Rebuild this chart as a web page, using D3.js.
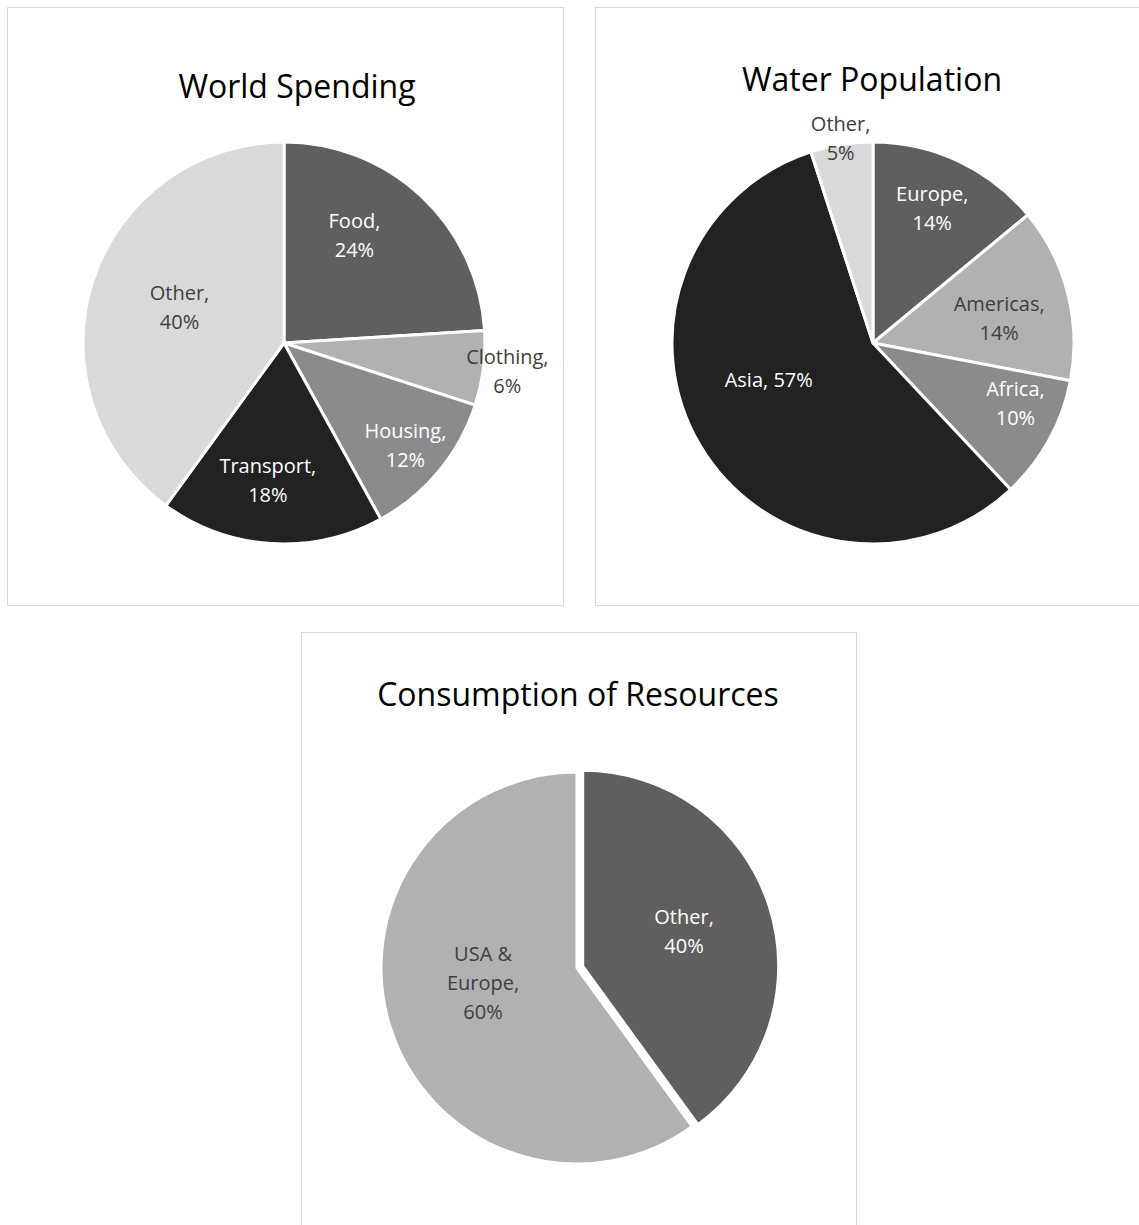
<!DOCTYPE html>
<html>
<head>
<meta charset="utf-8">
<script src="https://cdn.jsdelivr.net/npm/d3@7"></script>
<style>
  html, body { margin: 0; padding: 0; background: #fff; }
  svg { display: block; }
  text { font-family: "Open Sans", sans-serif; }
</style>
</head>
<body>
<svg id="chart" width="1139" height="1225"></svg>
<script>
// ---- Data ----
const spendingCategories = ["Food", "Clothing", "Housing", "Transport", "Other"];
const spendingValues = [24, 6, 12, 18, 40];

const waterCategories = ["Europe", "Americas", "Africa", "Asia", "Other"];
const waterValues = [14, 14, 10, 57, 5];

const resourceCategories = ["Other", "USA & Europe"];
const resourceValues = [40, 60];

const titles = ["World Spending", "Water Population", "Consumption of Resources"];

// ---- Styling / layout (not data) ----
const spendingColors = ["#5f5f5f", "#b1b1b1", "#8b8b8b", "#222222", "#d9d9d9"];
const waterColors = ["#5f5f5f", "#b1b1b1", "#8b8b8b", "#222222", "#d9d9d9"];
const resourceColors = ["#5f5f5f", "#b1b1b1"];

const panels = [
  { cats: spendingCategories, vals: spendingValues, colors: spendingColors, title: titles[0],
    box: [7, 7, 556, 598], titleX: 297, titleY: 98, cx: 284, cy: 343, r: 201,
    labels: {
      "Food": { dA: -10, k: 0.64, fill: "#fff" },
      "Clothing": { dA: 0, k: 1.12, fill: "#404040" },
      "Housing": { dA: 0.5, k: 0.79, fill: "#fff" },
      "Transport": { dA: 3.1, k: 0.69, fill: "#fff" },
      "Other": { dA: 1, k: 0.55, fill: "#404040" }
    }, explode: {} },
  { cats: waterCategories, vals: waterValues, colors: waterColors, title: titles[1],
    box: [595, 7, 560, 598], titleX: 872, titleY: 91, cx: 873, cy: 343, r: 201,
    labels: {
      "Europe": { dA: -1.4, k: 0.73, fill: "#fff" },
      "Americas": { dA: 3.2, k: 0.64, fill: "#404040" },
      "Africa": { dA: -5.8, k: 0.77, fill: "#fff" },
      "Asia": { dA: 11.2, k: 0.55, fill: "#fff", wrap: 140 },
      "Other": { dA: 0, k: 1.03, fill: "#404040" }
    }, explode: {} },
  { cats: resourceCategories, vals: resourceValues, colors: resourceColors, title: titles[2],
    box: [301, 632, 555, 620], titleX: 578, titleY: 706, cx: 577, cy: 968, r: 196,
    labels: {
      "Other": { dA: -0.8, k: 0.577, fill: "#fff" },
      "USA & Europe": { dA: 9.2, k: 0.485, fill: "#404040" }
    }, explode: { "Other": 6 } }
];

const svg = d3.select("#chart");
const fmtPct = v => d3.format(".0%")(v);

panels.forEach(p => {
  const g = svg.append("g");
  g.append("rect")
    .attr("x", p.box[0] + 0.5).attr("y", p.box[1] + 0.5)
    .attr("width", p.box[2]).attr("height", p.box[3])
    .attr("fill", "#fff").attr("stroke", "#d9d9d9").attr("stroke-width", 1);

  g.append("text")
    .attr("x", p.titleX).attr("y", p.titleY)
    .attr("text-anchor", "middle")
    .attr("font-size", 32).attr("fill", "#000")
    .text(p.title);

  const total = d3.sum(p.vals);
  const rows = p.cats.map((c, i) => ({ name: c, value: p.vals[i], color: p.colors[i] }));
  const pie = d3.pie().sort(null).value(d => d.value).startAngle(0).endAngle(2 * Math.PI);
  const arcs = pie(rows);
  const arc = d3.arc().innerRadius(0).outerRadius(p.r);

  const pg = g.append("g").attr("transform", `translate(${p.cx},${p.cy})`);

  pg.selectAll("path.slice").data(arcs).join("path")
    .attr("class", "slice")
    .attr("d", arc)
    .attr("fill", d => d.data.color)
    .attr("stroke", "#fff").attr("stroke-width", 3).attr("stroke-linejoin", "round")
    .attr("transform", d => {
      const e = p.explode[d.data.name] || 0;
      const a = (d.startAngle + d.endAngle) / 2;
      return `translate(${Math.sin(a) * e},${-Math.cos(a) * e})`;
    });

  const lineH = 29;
  arcs.forEach(d => {
    const L = p.labels[d.data.name];
    const a = (d.startAngle + d.endAngle) / 2 + L.dA * Math.PI / 180;
    const rr = L.k * p.r;
    const x = Math.sin(a) * rr, y = -Math.cos(a) * rr;
    const words = (d.data.name + ", " + fmtPct(d.data.value / total)).split(" ");
    const maxW = L.wrap || 75;
    const t = pg.append("text")
      .attr("text-anchor", "middle")
      .attr("font-size", 20).attr("fill", L.fill);
    const lines = [];
    let cur = [];
    const probe = pg.append("text").attr("font-size", 20).attr("visibility", "hidden");
    words.forEach(w => {
      const test = cur.concat([w]).join(" ");
      probe.text(test);
      if (cur.length && probe.node().getComputedTextLength() > maxW) {
        lines.push(cur.join(" "));
        cur = [w];
      } else cur.push(w);
    });
    lines.push(cur.join(" "));
    probe.remove();
    const y0 = y - (lines.length - 1) * lineH / 2;
    lines.forEach((ln, i) => {
      t.append("tspan").attr("x", x).attr("y", y0 + i * lineH).attr("dy", "0.35em").text(ln);
    });
  });
});
</script>
</body>
</html>
